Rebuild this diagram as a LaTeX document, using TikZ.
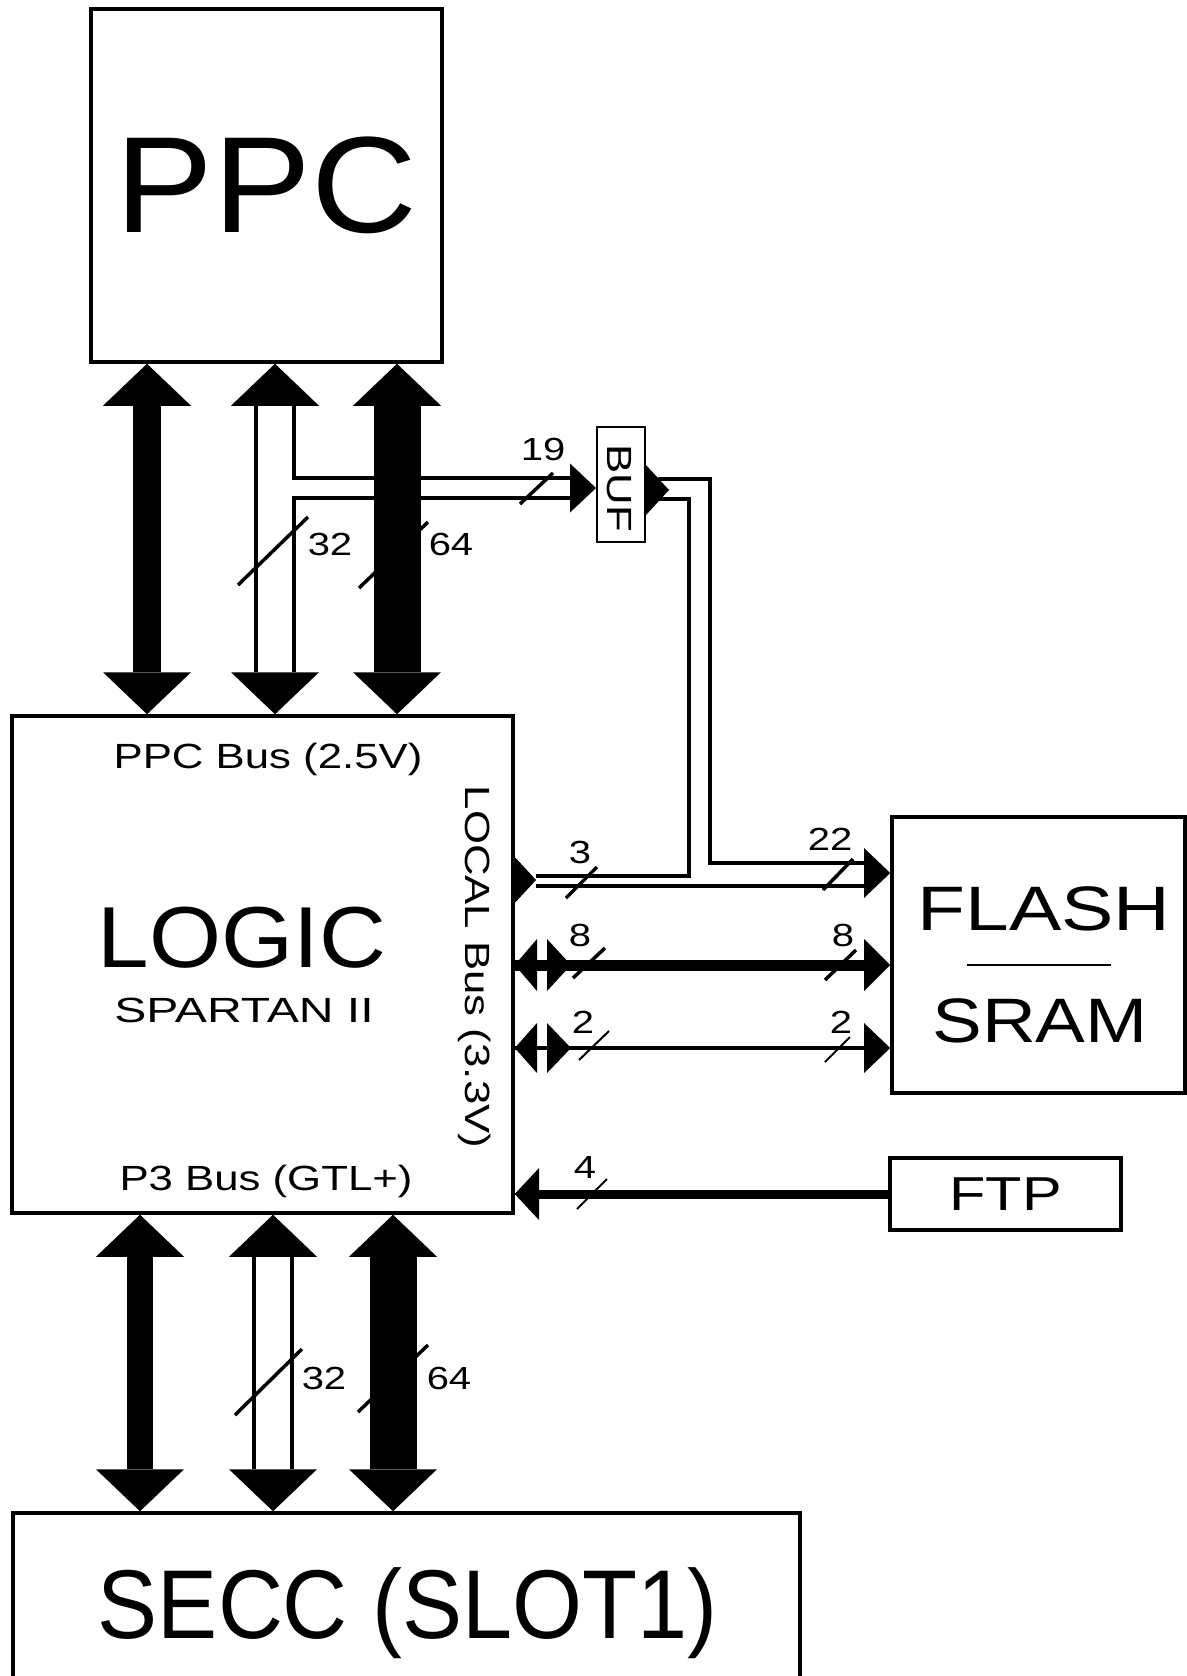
\documentclass[tikz,border=0pt]{standalone}
\usepackage{fontspec}
\usepackage{graphicx}
\usetikzlibrary{arrows.meta}
\newfontfamily\cadfont[FakeStretch=1.25]{Liberation Sans}
\newfontfamily\bigfont[FakeStretch=1.07]{Liberation Sans}
\tikzset{
  box/.style={draw, line width=1.75pt, inner sep=0pt},
  txt/.style={inner sep=0pt, anchor=base, font=\cadfont\fontsize{17.5pt}{18pt}\selectfont},
  num/.style={inner sep=0pt, anchor=base, font=\cadfont\fontsize{16pt}{16pt}\selectfont},
  wire/.style={line width=1.75pt},
  slash/.style={line width=1.75pt},
  thinslash/.style={line width=1pt},
  bighead/.style={{Triangle[width=44pt,length=21pt,line width=0pt]}-{Triangle[width=44pt,length=21pt,line width=0pt]}},
  hollow/.style={white, line width=17.1pt, shorten <=21pt, shorten >=21pt},
}
\begin{document}
\begin{tikzpicture}[x=0.5pt, y=-0.5pt]
\useasboundingbox (0,0) rectangle (1187,1676);
\clip (0,0) rectangle (1187,1676);
\fill[white] (0,0) rectangle (1187,1676);
\node[box, minimum width=175.5pt, minimum height=176.5pt, font=\bigfont\fontsize{68.5pt}{70pt}\selectfont] (ppc) at (266.5,185.5) {PPC};
\node[box, minimum width=250.5pt, minimum height=248.5pt] (logic) at (262.5,964.5) {};
\node[box, minimum width=146.5pt, minimum height=138pt] (flash) at (1038.5,955) {};
\node[box, minimum width=115.5pt, minimum height=36pt, font=\cadfont\fontsize{23.8pt}{24pt}\selectfont] (ftp) at (1005.5,1194) {FTP};
\node[box, minimum width=393.5pt, minimum height=123.5pt] (secc) at (406.5,1636.5) {};
\node[box, line width=1pt, minimum width=24pt, minimum height=57.5pt] (buf) at (621,484.5) {};
\node[txt] (ppcbus) at (268,768) {PPC Bus (2.5V)};
\node[txt, font=\bigfont\fontsize{43.3pt}{44pt}\selectfont] (logictxt) at (242,967) {LOGIC};
\node[txt] (spartan) at (244,1022) {\scalebox{1.1}[1]{SPARTAN II}};
\node[txt] (p3bus) at (266,1190) {P3 Bus (GTL+)};
\node[txt, rotate=-90] (localbus) at (465,967) {LOCAL Bus (3.3V)};
\node[txt, font=\cadfont\fontsize{31.4pt}{32pt}\selectfont] (flashtxt) at (1044,930) {FLASH};
\node[txt, font=\cadfont\fontsize{31.4pt}{32pt}\selectfont] (sramtxt) at (1040,1042) {\scalebox{0.95}[1]{SRAM}};
\node[txt, font=\bigfont\fontsize{48.9pt}{50pt}\selectfont] (secctxt) at (408,1638) {\scalebox{0.86}[1]{SECC (SLOT1)}};
\node[txt, rotate=-90] (buftxt) at (607,488) {BUF};
\draw[line width=1pt] (967,965) -- (1111,965);
\draw[bighead, line width=14pt] (ppc.south -| 147,0) -- (logic.north -| 147,0);
\draw[bighead, line width=20.9pt] (ppc.south -| 275,0) -- (logic.north -| 275,0);
\coordinate (br) at (294,488);
\draw[line width=11.75pt, -{Triangle[width=24.5pt,length=13pt,line width=0pt]}] (br) -- (buf.west |- br);
\draw[hollow] (ppc.south -| 275,0) -- (logic.north -| 275,0);
\draw[white, line width=8.25pt, shorten >=13pt] (br) ++(-4,0) -- (buf.west |- br);
\draw[slash] (238,585) -- (308,517);
\draw[slash] (359,588) -- (428,522);
\draw[slash] (520,504) -- (553,473);
\draw[bighead, line width=23.5pt] (ppc.south -| 397,0) -- (logic.north -| 397,0);
\node[num] (n19) at (543,460) {19};
\node[num] (n32a) at (330,555) {32};
\node[num] (n64a) at (451,555) {64};
\draw[bighead, line width=13pt] (logic.south -| 140,0) -- (secc.north -| 140,0);
\draw[bighead, line width=20.9pt] (logic.south -| 273,0) -- (secc.north -| 273,0);
\draw[hollow] (logic.south -| 273,0) -- (secc.north -| 273,0);
\draw[slash] (235,1415) -- (302,1349);
\draw[slash] (358,1412) -- (428,1345);
\draw[bighead, line width=23.5pt] (logic.south -| 393,0) -- (secc.north -| 393,0);
\node[num] (n32b) at (324,1389) {32};
\node[num] (n64b) at (449,1389) {64};
\coordinate (bufo) at (669,490);
\fill (buf.east |- 0,465) -- (bufo) -- (buf.east |- 0,515) -- cycle;
\draw[wire] (658,479) -- (710,479) -- (710,863) -- (864,863);
\draw[wire] (658,499) -- (689,499) -- (689,876) -- (536,876);
\draw[wire] (536,886) -- (864,886);
\fill (logic.east |- 0,857) -- (536,880) -- (logic.east |- 0,903) -- cycle;
\fill (864,848) -- (flash.west |- 0,873) -- (864,898) -- cycle;
\draw[slash] (566,898) -- (597,867);
\draw[slash] (823,890) -- (853,859);
\node[num] (n3) at (580,863) {3};
\node[num] (n22) at (830,850) {22};
\draw[line width=5.5pt] (logic.east |- 0,965) -- (864,965);
\fill (logic.east |- 0,965) -- (537,939) -- (537,991) -- cycle;
\fill (547,939) -- (571,965) -- (547,991) -- cycle;
\fill (864,939) -- (flash.west |- 0,965) -- (864,991) -- cycle;
\draw[slash] (573,978) -- (605,948);
\draw[slash] (825,980) -- (856,950);
\node[num] (n8a) at (580,946) {8};
\node[num] (n8b) at (843,946) {8};
\draw[wire] (logic.east |- 0,1048) -- (864,1048);
\fill (logic.east |- 0,1048) -- (537,1023) -- (537,1073) -- cycle;
\fill (547,1023) -- (571,1048) -- (547,1073) -- cycle;
\fill (864,1023) -- (flash.west |- 0,1048) -- (864,1073) -- cycle;
\draw[thinslash] (579,1060) -- (609,1031);
\draw[thinslash] (825,1062) -- (850,1037);
\node[num] (n2a) at (583,1033) {2};
\node[num] (n2b) at (841,1033) {2};
\draw[line width=4.5pt] (ftp.west) -- (ftp.west -| 539,0);
\fill (ftp.west -| logic.east) -- (539,1168) -- (539,1220) -- cycle;
\draw[thinslash] (577,1209) -- (607,1179);
\node[num] (n4) at (585,1178) {4};
\end{tikzpicture}
\end{document}
